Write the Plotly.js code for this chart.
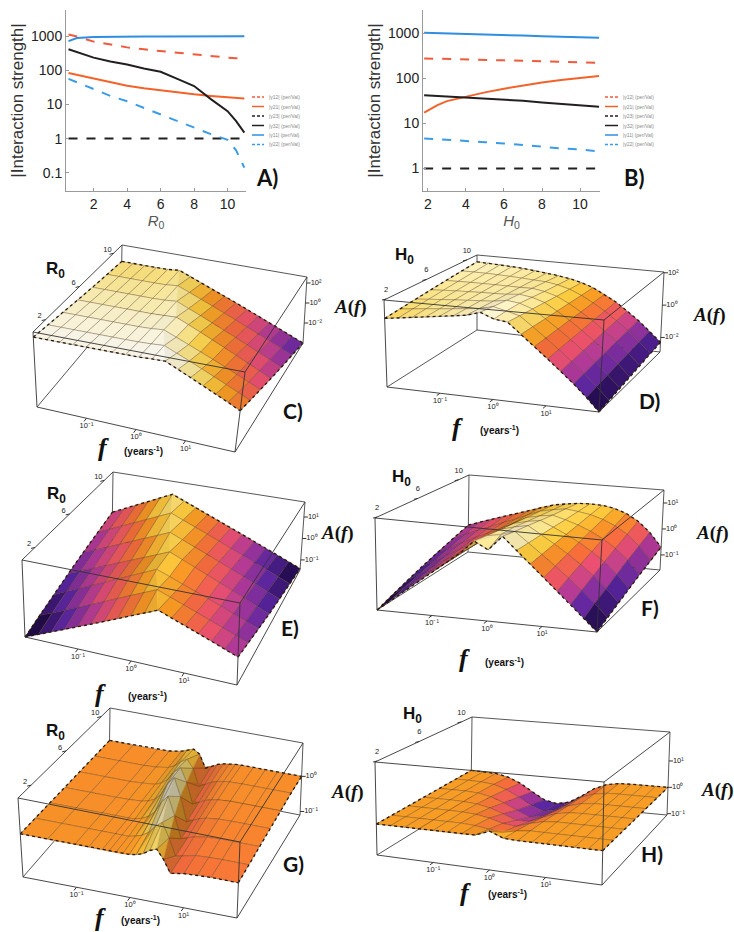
<!DOCTYPE html>
<html><head><meta charset="utf-8">
<script src="https://cdn.plot.ly/plotly-3.0.1.min.js"></script>
<style>html,body{margin:0;padding:0;background:#fff}#chart{width:734px;height:932px}</style>
</head><body><div id="chart"></div>
<script>
// ---------- Panel A data (x = R0) ----------
const rA = [0.5,1,2,3,4,5,6,7,8,9,10,10.5,11];
const A_g12 = [1150,1000,710,580,480,420,375,330,290,270,240,230,220];
const A_g21 = [85,75,57,45,36,30,26,23,20,18,16.5,15.5,15];
const A_g23 = [1,1,1,1,1,1,1,1,1,1,1,1,1];
const A_g32 = [425,350,240,185,150,115,92,57,35,14.5,6.4,3.3,1.5];
const A_g11 = [735,900,965,990,1000,1005,1010,1010,1015,1015,1020,1020,1020];
const A_g22 = [57,45,28,18,12.5,8,5.2,3.3,2.1,1.35,0.92,0.46,0.14];
// ---------- Panel B data (x = H0) ----------
const hB = [1.8,2.5,3,4,5,6,7,8,9,10,11];
const B_g12 = [278,275,272,265,258,252,246,240,234,228,223];
const B_g21 = [17.3,25.6,31.4,39.3,49,59,70,81.5,92,103.5,113];
const B_g23 = [1,1,1,1,1,1,1,1,1,1,1];
const B_g32 = [42.5,41,40,37.6,35.8,34,32,29.2,27,25,23.5];
const B_g11 = [1035,1020,1010,965,940,918,895,870,850,830,800];
const B_g22 = [4.66,4.5,4.4,4.1,3.85,3.6,3.3,3.0,2.8,2.65,2.4];
const legendNames = ['|γ12| (per/Val)','|γ21| (per/Val)','|γ23| (per/Val)','|γ32| (per/Val)','|γ11| (per/Val)','|γ22| (per/Val)'];
const yTickVals = [0.1,1,10,100,1000];
const yTickText = ['0.1','1','10','100','1000'];
const xTickVals = [2,4,6,8,10];
// ---------- Surfaces C-H: log10 f grid, R0 / H0 grid, log10 A(f) ----------
const logF = [-2,-1.75,-1.5,-1.25,-1,-0.75,-0.5,-0.25,0,0.25,0.5,0.75,1,1.25,1.5,1.75,2];
const logFG = [-2,-1.5,-1,-0.75,-0.5,-0.375,-0.25,-0.125,0,0.125,0.25,0.375,0.5,0.625,0.75,1,1.25,1.5,2];
const R0s = [0.5,2.25,4,5.75,7.5,9.25,11];
const H0s = [1.8,3.3,4.9,6.4,7.9,9.5,11];
const zC = [
 [2.15,2.15,2.15,2.15,2.15,2.15,2.15,2.15,2.17,2.22,2.25,1.77,1.3,0.83,0.35,-0.12,-0.6],
 [1.93,1.93,1.93,1.93,1.93,1.93,1.93,1.94,1.98,2.05,1.59,1.13,0.67,0.21,-0.25,-0.71,-1.17],
 [1.72,1.72,1.72,1.72,1.72,1.72,1.72,1.76,1.86,1.41,0.96,0.51,0.07,-0.38,-0.83,-1.28,-1.73],
 [1.5,1.5,1.5,1.5,1.5,1.5,1.5,1.55,1.6,1.11,0.63,0.14,-0.35,-0.84,-1.33,-1.81,-2.3],
 [1.28,1.28,1.28,1.28,1.28,1.28,1.32,1.42,0.94,0.47,-0.01,-0.49,-0.96,-1.44,-1.92,-2.39,-2.87],
 [1.07,1.07,1.07,1.07,1.07,1.1,1.22,0.76,0.29,-0.17,-0.64,-1.1,-1.57,-2.03,-2.5,-2.96,-3.43],
 [0.85,0.85,0.85,0.85,0.88,1.0,0.55,0.09,-0.36,-0.82,-1.27,-1.73,-2.18,-2.64,-3.09,-3.55,-4.0]];
const zD = [
 [1.0,1.1,1.2,1.3,1.4,1.5,1.62,1.85,1.55,1.45,0.85,0.25,-0.35,-0.95,-1.55,-2.2,-2.9],
 [1.1,1.18,1.26,1.33,1.41,1.48,1.57,1.74,1.56,1.36,0.82,0.26,-0.31,-0.89,-1.48,-2.12,-2.8],
 [1.2,1.26,1.32,1.37,1.42,1.46,1.51,1.63,1.53,1.27,0.78,0.27,-0.27,-0.83,-1.4,-2.03,-2.7],
 [1.3,1.34,1.38,1.4,1.43,1.44,1.46,1.53,1.42,1.18,0.75,0.28,-0.23,-0.78,-1.33,-1.95,-2.6],
 [1.4,1.42,1.43,1.43,1.43,1.42,1.41,1.42,1.3,1.08,0.72,0.28,-0.18,-0.72,-1.25,-1.87,-2.5],
 [1.5,1.5,1.49,1.47,1.44,1.4,1.35,1.31,1.19,0.99,0.68,0.29,-0.14,-0.66,-1.18,-1.78,-2.4],
 [1.6,1.58,1.55,1.5,1.45,1.38,1.3,1.2,1.08,0.9,0.65,0.3,-0.1,-0.6,-1.1,-1.7,-2.3]];
const zE = [
 [-1.47,-1.25,-1.02,-0.8,-0.57,-0.35,-0.12,0.1,0.33,0.55,0.78,0.58,0.39,0.19,0.0,-0.2,-0.39],
 [-1.25,-1.02,-0.79,-0.56,-0.33,-0.1,0.14,0.37,0.6,0.83,0.63,0.43,0.23,0.03,-0.17,-0.36,-0.56],
 [-1.04,-0.8,-0.56,-0.32,-0.08,0.17,0.41,0.65,0.89,0.69,0.48,0.28,0.08,-0.12,-0.33,-0.53,-0.73],
 [-0.82,-0.6,-0.38,-0.16,0.06,0.28,0.5,0.72,0.94,0.71,0.48,0.25,0.02,-0.21,-0.44,-0.67,-0.9],
 [-0.6,-0.37,-0.15,0.08,0.31,0.54,0.76,0.99,0.76,0.53,0.31,0.08,-0.15,-0.37,-0.6,-0.83,-1.06],
 [-0.39,-0.15,0.09,0.33,0.57,0.81,1.05,0.82,0.59,0.37,0.14,-0.09,-0.32,-0.55,-0.77,-1.0,-1.23],
 [-0.17,0.08,0.34,0.59,0.85,1.1,0.87,0.65,0.42,0.19,-0.04,-0.26,-0.49,-0.72,-0.95,-1.17,-1.4]];
const zF = [
 [-1.58,-1.22,-0.86,-0.5,-0.14,0.22,0.6,1.05,0.8,1.3,0.87,0.46,0.05,-0.36,-0.76,-1.17,-1.58],
 [-1.4,-1.07,-0.75,-0.42,-0.1,0.23,0.58,0.97,1.05,1.2,0.85,0.5,0.15,-0.22,-0.6,-1.0,-1.43],
 [-1.22,-0.92,-0.63,-0.34,-0.05,0.24,0.55,0.89,1.02,1.11,0.83,0.55,0.25,-0.08,-0.43,-0.84,-1.29],
 [-1.04,-0.78,-0.52,-0.26,-0.01,0.25,0.53,0.82,0.93,1.01,0.81,0.59,0.35,0.06,-0.27,-0.67,-1.14],
 [-0.86,-0.63,-0.4,-0.18,0.04,0.26,0.5,0.74,0.84,0.91,0.78,0.63,0.44,0.2,-0.11,-0.5,-0.99],
 [-0.68,-0.48,-0.29,-0.1,0.09,0.27,0.48,0.66,0.75,0.82,0.76,0.68,0.54,0.34,0.06,-0.34,-0.85],
 [-0.5,-0.33,-0.17,-0.02,0.13,0.28,0.45,0.58,0.66,0.72,0.74,0.72,0.64,0.48,0.22,-0.17,-0.7]];
const zG = [ // on logFG
 [0.02,0.02,0.02,0.02,0.02,0.02,0.02,0.02,0.04,0.07,0.13,0.25,0.32,0.08,-0.25,-0.19,-0.16,-0.15,-0.15],
 [0.02,0.02,0.02,0.02,0.02,0.02,0.02,0.06,0.12,0.23,0.43,0.57,0.19,-0.27,-0.23,-0.15,-0.13,-0.12,-0.12],
 [0.01,0.01,0.01,0.01,0.01,0.02,0.07,0.15,0.31,0.61,0.81,0.32,-0.28,-0.22,-0.16,-0.1,-0.08,-0.08,-0.08],
 [0,0,0,0.01,0.03,0.07,0.15,0.32,0.64,0.85,0.36,-0.3,-0.23,-0.15,-0.1,-0.06,-0.05,-0.05,-0.05],
 [0,0,0,0.02,0.05,0.12,0.25,0.49,0.65,0.28,-0.3,-0.22,-0.13,-0.08,-0.05,-0.02,-0.02,-0.02,-0.02],
 [0,0,0,0.02,0.07,0.15,0.3,0.4,0.18,-0.3,-0.21,-0.12,-0.06,-0.03,-0.01,0,0,0,0],
 [0,0,0,0.02,0.08,0.15,0.2,0.09,-0.28,-0.2,-0.11,-0.06,-0.03,-0.01,0,0,0,0,0]];
const zH = [
 [0,0,0,0,0,0,0,0.02,0.2,0.02,0,0,0,0,0,0,0],
 [0,0,0,0,0,0,-0.03,-0.1,-0.15,-0.05,0,0,0,0,0,0,0],
 [0,0,0,0,-0.01,-0.04,-0.12,-0.25,-0.3,-0.15,-0.04,0,0,0,0,0,0],
 [0,0,0,-0.01,-0.05,-0.14,-0.3,-0.48,-0.47,-0.28,-0.1,-0.02,0,0,0,0,0],
 [0,0,0,-0.03,-0.12,-0.3,-0.52,-0.72,-0.65,-0.4,-0.17,-0.05,0,0,0,0,0],
 [0,0,-0.02,-0.07,-0.22,-0.46,-0.72,-0.9,-0.8,-0.53,-0.24,-0.08,-0.01,0,0,0,0],
 [0,-0.01,-0.04,-0.14,-0.34,-0.63,-0.9,-1.0,-0.9,-0.62,-0.3,-0.1,-0.02,0,0,0,0]];
const fTickVals = [-1,0,1];
const fTickText = ['10⁻¹','10⁰','10¹'];
const pTickVals = [2,6,10];

// ---------- styles / geometry (not data) ----------
const sunset = [[0,[0,0,0]],[0.1,[42,15,90]],[0.22,[92,38,165]],[0.36,[180,58,156]],[0.48,[240,82,112]],
  [0.58,[248,110,60]],[0.68,[250,156,36]],[0.76,[253,206,64]],[0.84,[253,232,140]],[0.92,[254,247,212]],[1,[255,255,255]]];
function cmap(t){t=Math.max(0,Math.min(1,t));for(let k=1;k<sunset.length;k++){if(t<=sunset[k][0]){const a=sunset[k-1],b=sunset[k],s=(t-a[0])/(b[0]-a[0]);
  return a[1].map((c,i)=>c+(b[1][i]-c)*s);}}return sunset[sunset.length-1][1];}
const panels = [
 {f:logF,z:zC,p:R0s,pr:[0.5,11],zr:[-4,2.6],cmin:-5.5,cmax:2.3,ztv:[-2,0,2],ztt:['10⁻²','10⁰','10²'],view:[0.36,-0.825,0.43],pOff:[-6,-3],
  c:{FBL:[37,407],FBR:[235,452],FTL:[33,332],FTR:[245,372],BBL:[121,307],BBR:[303,343],BTL:[122,245],BTR:[307,277]}},
 {f:logF,z:zD,p:H0s,pr:[1.8,11],zr:[-2.9,2.05],cmin:-3,cmax:2.1,ztv:[-2,0,2],ztt:['10⁻²','10⁰','10²'],view:[0.38,-0.9,0.21],pOff:[0,-9],
  c:{FBL:[387,387],FBR:[599,412],FTL:[384,300],FTR:[604,320],BBL:[477,330],BBR:[660,352],BTL:[477,255],BTR:[664,272]}},
 {f:logF,z:zE,p:R0s,pr:[0.5,11],zr:[-1.47,1.7],cmin:-1.5,cmax:1.6,ztv:[-1,0,1],ztt:['10⁻¹','10⁰','10¹'],view:[0.36,-0.825,0.43],pOff:[-6,-3],
  c:{FBL:[25,637],FBR:[237,685],FTL:[22,560],FTR:[240,603],BBL:[112,540],BBR:[300,570],BTL:[113,472],BTR:[305,502]}},
 {f:logF,z:zF,p:H0s,pr:[1.8,11],zr:[-1.58,1.5],cmin:-1.6,cmax:1.4,ztv:[-1,0,1],ztt:['10⁻¹','10⁰','10¹'],view:[0.38,-0.9,0.21],pOff:[0,-9],
  c:{FBL:[377,610],FBR:[597,632],FTL:[375,518],FTR:[602,540],BBL:[468,552],BBR:[660,570],BTL:[469,475],BTR:[664,490]}},
 {f:logFG,z:zG,p:R0s,pr:[0.5,11],zr:[-1.1,0.95],cmin:-1.7,cmax:0.9,ztv:[-1,0],ztt:['10⁻¹','10⁰'],view:[0.36,-0.825,0.43],pOff:[-6,-3],
  c:{FBL:[23,877],FBR:[237,918],FTL:[18,798],FTR:[240,842],BBL:[109,778],BBR:[300,815],BTL:[110,708],BTR:[303,743]}},
 {f:logF,z:zH,p:H0s,pr:[1.8,11],zr:[-1.05,2.1],cmin:-1.3,cmax:0.6,ztv:[-1,0,1],ztt:['10⁻¹','10⁰','10¹'],view:[0.38,-0.9,0.21],pOff:[0,-9],
  c:{FBL:[377,855],FBR:[602,885],FTL:[375,762],FTR:[604,782],BBL:[471,797],BBR:[667,815],BTL:[472,717],BTR:[670,732]}}
];
const AR = [1,0.95,0.38];
function lerp(a,b,t){return [a[0]+(b[0]-a[0])*t,a[1]+(b[1]-a[1])*t];}
function proj(c,u,v,w){
  const fb=lerp(c.FBL,c.FBR,u),ft=lerp(c.FTL,c.FTR,u),bb=lerp(c.BBL,c.BBR,u),bt=lerp(c.BTL,c.BTR,u);
  return lerp(lerp(fb,ft,w),lerp(bb,bt,w),v);
}
const data = [];
const cRed='#ef5a3c', cOrange='#f2622a', cBlack='#231f20', cBlue='#2f8ee0', cBlue2='#3a9be8';
const lineStyles = [{c:cRed,d:'dash'},{c:cOrange,d:'solid'},{c:cBlack,d:'dash'},{c:cBlack,d:'solid'},{c:cBlue,d:'solid'},{c:cBlue2,d:'dash'}];
function lineSet(x, ys, xa, ya){
  ys.forEach((y,i)=>data.push({type:'scatter',mode:'lines',x:x,y:y,xaxis:xa,yaxis:ya,showlegend:false,
    name:legendNames[i],line:{color:lineStyles[i].c,dash:lineStyles[i].d,width:2},hoverinfo:'skip'}));
}
lineSet(rA,[A_g12,A_g21,A_g23,A_g32,A_g11,A_g22],'x','y');
lineSet(hB,[B_g12,B_g21,B_g23,B_g32,B_g11,B_g22],'x2','y2');

function segTrace(segs, color, width, dash){
  const x=[],y=[]; segs.forEach(s=>{s.forEach(p=>{x.push(p[0]);y.push(p[1]);});x.push(null);y.push(null);});
  return {type:'scatter',mode:'lines',x:x,y:y,xaxis:'x3',yaxis:'y3',showlegend:false,hoverinfo:'skip',
    line:{color:color,width:width,dash:dash||'solid'}};
}
const MESH='rgba(70,40,15,0.5)';
function renderPanel(P){
  const c=P.c, F=P.f, nF=F.length, nP=P.p.length;
  const U=F.map(l=>(l+2)/4), V=P.p.map(p=>(p-P.pr[0])/(P.pr[1]-P.pr[0]));
  const W=P.z.map(r=>r.map(z=>(z-P.zr[0])/(P.zr[1]-P.zr[0])));
  const S=(i,j)=>proj(c,U[i],V[j],W[j][i]);
  const P3=(ii,jj)=>[U[ii]*AR[0],V[jj]*AR[1],W[jj][ii]*AR[2]];
  const L=[0.25,-0.45,1], Ln=Math.hypot(...L);
  function colorOf(pts3, zs){
    const a=pts3[0],b=pts3[1],cc=pts3[2];
    const e1=[b[0]-a[0],b[1]-a[1],b[2]-a[2]], e2=[cc[0]-a[0],cc[1]-a[1],cc[2]-a[2]];
    let n=[e1[1]*e2[2]-e1[2]*e2[1],e1[2]*e2[0]-e1[0]*e2[2],e1[0]*e2[1]-e1[1]*e2[0]];
    if(n[2]<0) n=n.map(q=>-q);
    const nl=Math.hypot(...n); n=n.map(q=>q/nl);
    const dot=(n[0]*L[0]+n[1]*L[1]+n[2]*L[2])/Ln;
    const shade=Math.min(1,0.5+0.55*dot);
    const zav=zs.reduce((s,q)=>s+q,0)/zs.length;
    return 'rgb('+cmap((zav-P.cmin)/(P.cmax-P.cmin)).map(q=>Math.round(q*shade)).join(',')+')';
  }
  data.push(segTrace([[c.BTL,c.BTR],[c.BTL,c.BBL],[c.BBL,c.BBR],[c.BTR,c.BBR],[c.FBL,c.BBL]],'#444',0.9));
  const quads=[];
  for(let j=0;j<nP-1;j++)for(let i=0;i<nF-1;i++){
    const ids=[[i,j],[i+1,j],[i+1,j+1],[i,j+1]];
    const p3=ids.map(q=>P3(q[0],q[1])), zz=ids.map(q=>P.z[q[1]][q[0]]), sc=ids.map(q=>S(q[0],q[1]));
    const ctr=[(p3[0][0]+p3[2][0])/2,(p3[0][1]+p3[2][1])/2,(p3[0][2]+p3[2][2])/2];
    const key=P.view[0]*ctr[0]+P.view[1]*ctr[1]+P.view[2]*ctr[2];
    const wq=ids.map(q=>W[q[1]][q[0]]);
    const bend=Math.abs(wq[0]+wq[2]-wq[1]-wq[3]);
    let tris=null;
    if(bend>0.04) tris=(wq[1]+wq[3]>wq[0]+wq[2])?[[0,1,3],[1,2,3]]:[[0,1,2],[0,2,3]];
    quads.push({key,p3,zz,sc,tris});
  }
  quads.sort((p,q)=>p.key-q.key);
  quads.forEach(q=>{
    const outline=[q.sc[0],q.sc[1],q.sc[2],q.sc[3],q.sc[0]];
    if(!q.tris){
      data.push({type:'scatter',mode:'lines',x:outline.map(p=>p[0]),y:outline.map(p=>p[1]),xaxis:'x3',yaxis:'y3',
        fill:'toself',fillcolor:colorOf([q.p3[0],q.p3[1],q.p3[2]],q.zz),line:{color:MESH,width:0.6},showlegend:false,hoverinfo:'skip'});
    } else {
      q.tris.forEach(t=>{
        const pts=[q.sc[t[0]],q.sc[t[1]],q.sc[t[2]],q.sc[t[0]]];
        const col=colorOf(t.map(k=>q.p3[k]),t.map(k=>q.zz[k]));
        data.push({type:'scatter',mode:'lines',x:pts.map(p=>p[0]),y:pts.map(p=>p[1]),xaxis:'x3',yaxis:'y3',
          fill:'toself',fillcolor:col,line:{color:col,width:0.4},showlegend:false,hoverinfo:'skip'});
      });
      data.push({type:'scatter',mode:'lines',x:outline.map(p=>p[0]),y:outline.map(p=>p[1]),xaxis:'x3',yaxis:'y3',
        line:{color:MESH,width:0.6},showlegend:false,hoverinfo:'skip'});
    }
  });
  const eF=[],eB=[],eL=[],eR=[];
  for(let i=0;i<nF;i++){eF.push(S(i,0));eB.push(S(i,nP-1));}
  for(let j=0;j<nP;j++){eL.push(S(0,j));eR.push(S(nF-1,j));}
  data.push(segTrace([eF,eB,eL,eR],'#2a1a0a',1.3,'dot'));
  data.push(segTrace([[c.FTL,c.FTR],[c.FBL,c.FBR],[c.FTL,c.FBL],[c.FTR,c.FBR],[c.FTR,c.BTR],[c.FBR,c.BBR],[c.FTL,c.BTL]],'#333',0.9));
  const tk=[],tx=[],ty=[],tt=[],px=[],py=[],pt=[],zx=[],zy=[],zt=[];
  fTickVals.forEach((f,k)=>{const u=(f+2)/4;const p0=proj(c,u,0,0),p1=proj(c,u,1,0);
    const dx=p0[0]-p1[0],dy=p0[1]-p1[1],dl=Math.hypot(dx,dy);tk.push([p0,[p0[0]+dx/dl*4,p0[1]+dy/dl*4]]);
    tx.push(p0[0]);ty.push(p0[1]+8);tt.push(fTickText[k]);});
  pTickVals.forEach(p=>{const v=(p-P.pr[0])/(P.pr[1]-P.pr[0]);const p0=proj(c,0,v,1);
    tk.push([p0,[p0[0]-4,p0[1]+1]]);px.push(p0[0]+P.pOff[0]);py.push(p0[1]+P.pOff[1]);pt.push(String(p));});
  P.ztv.forEach((z,k)=>{const w=(z-P.zr[0])/(P.zr[1]-P.zr[0]);const p0=proj(c,1,1,w);
    tk.push([p0,[p0[0]+4,p0[1]]]);zx.push(p0[0]+4);zy.push(p0[1]);zt.push(P.ztt[k]);});
  data.push(segTrace(tk,'#333',1));
  const tf={size:7.5,color:'#222',family:'Liberation Sans, Arial'};
  data.push({type:'scatter',mode:'text',x:tx,y:ty,text:tt,textposition:'middle center',textfont:tf,xaxis:'x3',yaxis:'y3',showlegend:false,hoverinfo:'skip'});
  data.push({type:'scatter',mode:'text',x:px,y:py,text:pt,textposition:'middle center',textfont:tf,xaxis:'x3',yaxis:'y3',showlegend:false,hoverinfo:'skip'});
  data.push({type:'scatter',mode:'text',x:zx,y:zy,text:zt,textposition:'middle right',textfont:tf,xaxis:'x3',yaxis:'y3',showlegend:false,hoverinfo:'skip'});
}
panels.forEach(renderPanel);

const axis2d = {showline:true,linecolor:'#9a9a9a',linewidth:1,showgrid:false,zeroline:false,
  ticks:'inside',ticklen:3,tickcolor:'#9a9a9a',tickfont:{size:14,color:'#222',family:'Liberation Sans, Arial'}};
const ann = [], shapes = [];
function A(text,x,y,size,opts){ann.push(Object.assign({text:text,x:x/734,y:1-y/932,xref:'paper',yref:'paper',showarrow:false,
  xanchor:'center',yanchor:'middle',font:{size:size,color:'#111',family:'Lato, Liberation Sans, Arial'}},opts||{}));}
const legRows=[97,106.5,116,125.5,135,144.5];
[[252,264,267],[605,618,621]].forEach(g=>{
  legRows.forEach((yy,i)=>{
    shapes.push({type:'line',xref:'paper',yref:'paper',x0:g[0]/734,x1:g[1]/734,y0:1-yy/932,y1:1-yy/932,
      line:{color:lineStyles[i].c,width:1.5,dash:lineStyles[i].d==='dash'?'3px,2px':'solid'}});
    ann.push({text:legendNames[i],x:g[2]/734,y:1-yy/932,xref:'paper',yref:'paper',xanchor:'left',yanchor:'middle',showarrow:false,
      font:{size:5,color:'#8a8a8a',family:'Liberation Sans, Arial'}});
  });
});
A('<b>A)</b>',267,177,22); A('<b>B)</b>',634,177,22);
A('<b>C)</b>',293,410,21); A('<b>D)</b>',649,400,21);
A('<b>E)</b>',290,627,21); A('<b>F)</b>',650,607,21);
A('<b>G)</b>',293,863,21); A('<b>H)</b>',652,853,21);
const serif = {family:'Liberation Serif, DejaVu Serif, serif',size:19,color:'#111'};
[[350,307],[709,315],[337,533],[712,533],[347,792],[717,790]].forEach(p=>A('<b><i>A</i>(<i>f</i>)</b>',p[0],p[1],19,{font:serif}));
const fserif = {family:'Liberation Serif, DejaVu Serif, serif',size:26,color:'#111'};
[[103,448],[457,427],[100,693],[464,658],[100,917],[465,892]].forEach(p=>A('<b><i>f</i></b>',p[0],p[1],26,{font:fserif}));
[[143,451],[499,430],[147,696],[504,662],[140,920],[507,894]].forEach(p=>A('<b>(years<sup>-1</sup>)</b>',p[0],p[1],10,{font:{size:10,color:'#111',family:'Liberation Sans, Arial'}}));
[[55,270],[57,495],[55,732]].forEach(p=>A('<b>R<sub>0</sub></b>',p[0],p[1],17,{font:{size:17,color:'#111',family:'Liberation Sans, Arial'}}));
[[404,256],[401,478],[412,715]].forEach(p=>A('<b>H<sub>0</sub></b>',p[0],p[1],17,{font:{size:17,color:'#111',family:'Liberation Sans, Arial'}}));

const layout = {
  width:734,height:932,margin:{l:0,r:0,t:0,b:0},paper_bgcolor:'#fff',plot_bgcolor:'rgba(0,0,0,0)',showlegend:false,
  font:{family:'Liberation Sans, Arial',color:'#222'},
  xaxis:Object.assign({},axis2d,{domain:[66/734,246/734],range:[0.35,11.1],tickvals:xTickVals,
    title:{text:'<i>R</i><sub>0</sub>',font:{size:15,color:'#555'},standoff:2},anchor:'y'}),
  yaxis:Object.assign({},axis2d,{domain:[1-191/932,1-10/932],type:'log',range:[-1.54,3.78],tickvals:yTickVals,ticktext:yTickText,
    title:{text:'|Interaction strength|',font:{size:17,color:'#333'},standoff:3},anchor:'x'}),
  xaxis2:Object.assign({},axis2d,{domain:[423/734,600/734],range:[1.74,11.05],tickvals:xTickVals,
    title:{text:'<i>H</i><sub>0</sub>',font:{size:15,color:'#555'},standoff:2},anchor:'y2'}),
  yaxis2:Object.assign({},axis2d,{domain:[1-191/932,1-10/932],type:'log',range:[-0.5,3.52],tickvals:yTickVals,ticktext:yTickText,
    title:{text:'|Interaction strength|',font:{size:17,color:'#333'},standoff:3},anchor:'x2'}),
  xaxis3:{domain:[0,1],range:[0,734],visible:false,fixedrange:true,anchor:'y3'},
  yaxis3:{domain:[0,1],range:[932,0],visible:false,fixedrange:true,anchor:'x3'},
  annotations:ann, shapes:shapes
};
Plotly.newPlot('chart',data,layout,{displayModeBar:false,staticPlot:true});
</script></body></html>
